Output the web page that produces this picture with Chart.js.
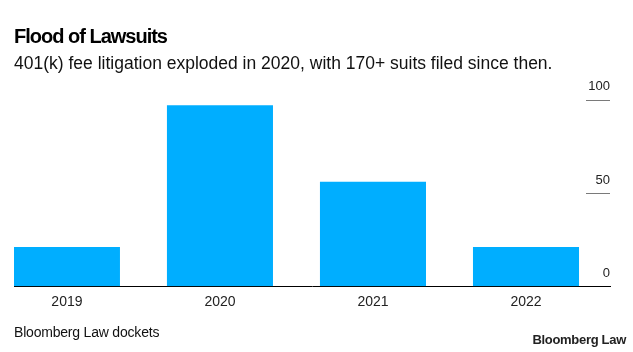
<!DOCTYPE html>
<html>
<head>
<meta charset="utf-8">
<script src="https://cdn.jsdelivr.net/npm/chart.js@4.4.1/dist/chart.umd.min.js"></script>
<style>
  html, body { margin: 0; padding: 0; background: #fff; }
  #wrap { position: relative; width: 633px; height: 352px; overflow: hidden; font-family: "Liberation Sans", Arial, sans-serif; color: #000; }
  #chartBox { position: absolute; left: 0; top: 0; width: 633px; height: 352px; }
  .title { position: absolute; left: 14px; top: 25px; font-size: 20px; font-weight: bold; letter-spacing: -1px; line-height: 22px; white-space: nowrap; }
  .subtitle { position: absolute; left: 14px; top: 53px; font-size: 17.5px; line-height: 20px; letter-spacing: 0; white-space: nowrap; color: #111; }
  .source { position: absolute; left: 14px; top: 324px; font-size: 14px; line-height: 16px; letter-spacing: -0.2px; white-space: nowrap; color: #111; }
  .logo { position: absolute; right: 7px; top: 332px; font-size: 13px; font-weight: bold; line-height: 16px; letter-spacing: -0.3px; white-space: nowrap; color: #222; }
</style>
</head>
<body>
<div id="wrap">
  <div id="chartBox"><canvas id="lawsuitsChart" width="633" height="352"></canvas></div>
  <div class="title">Flood of Lawsuits</div>
  <div class="subtitle">401(k) fee litigation exploded in 2020, with 170+ suits filed since then.</div>
  <div class="source">Bloomberg Law dockets</div>
  <div class="logo">Bloomberg Law</div>
</div>
<script>
  // Chart data
  const years = ['2019', '2020', '2021', '2022'];
  const suits = [21, 97, 56, 21];
  const yTicks = [0, 50, 100];

  // short grey marks above the right-hand labels
  const tickMarks = {
    id: 'tickMarks',
    afterDraw(chart) {
      const { ctx, chartArea, scales: { y } } = chart;
      ctx.save();
      ctx.strokeStyle = '#7a7a7a';
      ctx.lineWidth = 1;
      y.ticks.forEach(t => {
        if (t.value === 0) return;
        const py = Math.round(y.getPixelForValue(t.value)) + 0.5;
        ctx.beginPath();
        ctx.moveTo(chartArea.right - 24, py);
        ctx.lineTo(chartArea.right, py);
        ctx.stroke();
      });
      ctx.restore();
    }
  };

  new Chart(document.getElementById('lawsuitsChart'), {
    type: 'bar',
    data: {
      datasets: [{
        data: suits.map((v, i) => ({ x: i, y: v })),
        backgroundColor: '#00aeff',
        borderWidth: 0,
        categoryPercentage: 1,
        barPercentage: 0.693
      }]
    },
    options: {
      responsive: false,
      animation: false,
      devicePixelRatio: 1,
      layout: { padding: { left: 14, right: 23, top: 81, bottom: 33 } },
      plugins: { legend: { display: false }, tooltip: { enabled: false } },
      scales: {
        x: {
          type: 'linear',
          offset: false,
          min: -0.346,
          max: 3.549,
          grid: { display: false, drawTicks: false },
          border: { display: true, color: '#000', width: 1 },
          afterBuildTicks: axis => { axis.ticks = years.map((_, i) => ({ value: i })); },
          ticks: {
            callback: v => years[v],
            color: '#222',
            font: { family: 'Liberation Sans', size: 14 },
            padding: 8,
            maxRotation: 0,
            autoSkip: false
          }
        },
        y: {
          position: 'right',
          min: 0,
          max: 110,
          afterBuildTicks: axis => { axis.ticks = yTicks.map(v => ({ value: v })); },
          grid: { display: false, drawTicks: false },
          border: { display: false },
          ticks: {
            mirror: true,
            padding: 0,
            labelOffset: -13,
            color: '#222',
            font: { family: 'Liberation Sans', size: 13 }
          }
        }
      }
    },
    plugins: [tickMarks]
  });
</script>
</body>
</html>
